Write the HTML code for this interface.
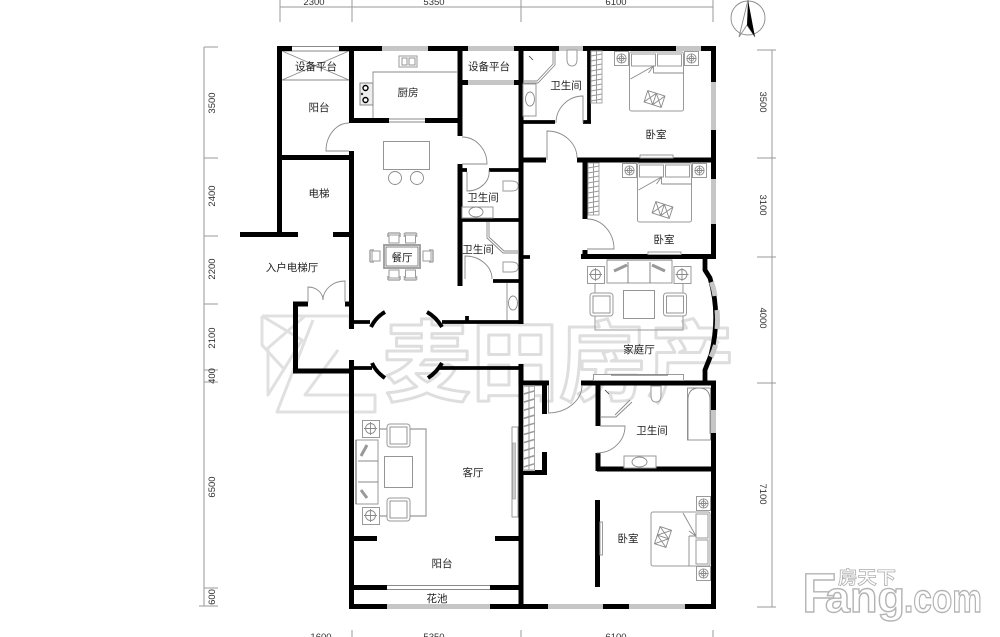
<!DOCTYPE html>
<html><head><meta charset="utf-8"><style>
html,body{margin:0;padding:0;background:#fff;width:1000px;height:637px;overflow:hidden}
svg{display:block}
.w{stroke:#000;stroke-width:5;fill:none}
.t{stroke:#000;stroke-width:3.8;fill:none}
.g{fill:#c6c6c6}
.l{stroke:#8a8a8a;stroke-width:.9;fill:none}
.f{stroke:#9a9a9a;stroke-width:1;fill:#fff}
.h{stroke:#aaa;stroke-width:1.6;fill:none}
.lb{font-family:"Liberation Sans","Noto Sans CJK SC",sans-serif;font-size:10.5px;fill:#222;text-anchor:middle}
.d{font-family:"Liberation Sans",sans-serif;font-size:9.5px;fill:#333;text-anchor:middle}
.wm{font-family:"Liberation Sans","Noto Sans CJK SC",sans-serif;font-weight:700;font-size:88px;fill:#fff;stroke:#dedede;stroke-width:3;stroke-linejoin:round}
.fg{font-family:"Liberation Sans",sans-serif;font-weight:700;fill:#fff;stroke:#b4b4b4;stroke-width:1.4}
</style></head><body>
<svg width="1000" height="637" viewBox="0 0 1000 637" xmlns="http://www.w3.org/2000/svg">
<defs>
<g id="ns"><rect x=".5" y=".5" width="14" height="14" class="f"/><circle cx="7.5" cy="7.5" r="4.6" class="l"/><circle cx="7.5" cy="7.5" r="2.4" class="l"/><path d="M3 7.500H12M7.500 3V12" class="l"/></g>
<g id="ns2"><rect x=".5" y=".5" width="17" height="17" class="f"/><circle cx="8.500" cy="8.500" r="5" class="l"/><path d="M2 8.500H15M8.500 2V15" class="l"/></g>
<g id="bed">
<rect x="0" y="0" width="54" height="59" rx="2" fill="#fff" stroke="#999" stroke-width="1"/>
<rect x="2" y="2" width="24" height="12" class="f"/><rect x="28" y="2" width="24" height="12" class="f"/>
<path d="M24 21H54M1 27L24 14V21M24 14L19 21" class="l"/>
<g transform="translate(25,47) rotate(18)"><path d="M-9-6H0V6H-9ZM0-6H9V6H0ZM-9-6L0 6M0-6L-9 6M0-6L9 6M9-6L0 6" class="l"/></g>
</g>
<g id="lad"><rect x="0" y="0" width="11" height="52" fill="#fff" stroke="#aaa" stroke-width="1"/><path d="M5.500 0V52M0 5L11 3M0 10L11 8M0 15L11 13M0 20L11 18M0 25L11 23M0 30L11 28M0 35L11 33M0 40L11 38M0 45L11 43M0 50L11 48" stroke="#999" stroke-width="1" fill="none"/></g>
<g id="arm"><rect x="0" y="0" width="23" height="23" rx="3" class="f"/><rect x="3" y="3" width="17" height="17" class="l"/></g>
<g id="ch"><rect x="1" y="3" width="10" height="8" class="f"/><path d="M0 1H12M0 1V5M12 1V5" class="h"/></g>
<g id="toilet"><path d="M0 0H10V9Q10 16 5 16T0 9Z" class="f"/></g>
</defs>

<!-- watermark -->
<g fill="none" stroke="#e0e0e0" stroke-width="3" stroke-linejoin="round">
<path d="M262 316H305L268 348V395L302 340L262 316M305 316H350V328"/>
<path d="M313 320L277 412H375V395H305L338 350"/>
<path d="M262 316V345L283 368"/>
</g>
<text class="wm" x="383" y="394" textLength="352" lengthAdjust="spacingAndGlyphs">麦田房产</text>

<!-- dimensions -->
<g stroke="#9a9a9a" stroke-width="1" fill="none">
<path d="M280 7H713M280 0V22M352 0V22M521 0V22M713 0V22"/>
<path d="M352 630V637M521 630V637M713 630V637"/>
<path d="M772 50V607M757 50H776M757 158H776M757 257H776M757 383H776M757 607H776"/>
<path d="M204 47V606" stroke="#bdbdbd" stroke-width="1.6"/>
<path d="M204 47H218M204 158H218M204 236H218M204 304H218M204 370H218M204 382H218M204 588H218M199 606H218"/>
</g>
<g class="d">
<text x="314" y="5">2300</text><text x="434" y="5">5350</text><text x="616" y="5">6100</text>
<text x="321" y="640">1600</text><text x="434" y="640">5350</text><text x="616" y="640">6100</text>
<text transform="translate(760,102) rotate(90)">3500</text>
<text transform="translate(760,205) rotate(90)">3100</text>
<text transform="translate(760,318) rotate(90)">4000</text>
<text transform="translate(760,494) rotate(90)">7100</text>
<text transform="translate(215,103) rotate(-90)">3500</text>
<text transform="translate(215,196) rotate(-90)">2400</text>
<text transform="translate(215,269) rotate(-90)">2200</text>
<text transform="translate(215,338) rotate(-90)">2100</text>
<text transform="translate(215,376) rotate(-90)">400</text>
<text transform="translate(215,487) rotate(-90)">6500</text>
<text transform="translate(215,597) rotate(-90)">600</text>
</g>

<!-- compass -->
<circle cx="748" cy="18" r="17" fill="none" stroke="#888" stroke-width=".9"/>
<path d="M739 37L747 25L755 37M748 0L739 37" class="l"/>
<path d="M748 0L755 37L747 25Z" fill="#000"/>

<!-- windows -->
<g class="g">
<rect x="382" y="46" width="46" height="5"/><rect x="468" y="46" width="46" height="5"/>
<rect x="559" y="46" width="24" height="5"/><rect x="676" y="46" width="25" height="5"/>
<rect x="468" y="80" width="46" height="5"/>
<rect x="711" y="82" width="5" height="48"/><rect x="711" y="179" width="5" height="45"/>
<rect x="711" y="410" width="5" height="23"/>
<rect x="387" y="604" width="103" height="5"/><rect x="548" y="604" width="55" height="5"/><rect x="629" y="604" width="56" height="5"/>
</g>
<path d="M292 46.500H339M292 51H339M387 585.500H490M387 589.500H490" class="l"/>
<path d="M282 51H349M282 80H349M282 51L349 80M349 51L282 80" class="l"/>

<!-- walls -->
<g class="w">
<path d="M277 48.500H292M339 48.500H382M428 48.500H468M514 48.500H559M583 48.500H676M701 48.500H716"/>
<path d="M279.500 46V237M240 234.500H298M333 234.500H351M277 157.500H354"/>
<path d="M351.500 46V123M349 120.500H389M425 120.500H462M351.500 151V329"/>
<path d="M460 46V136M460 164V286M462 82.500H468M514 82.500H519"/>
<path d="M521 46V324M521 364V609"/>
<path d="M295.500 302V373M293 304H308M345 304H351M293 371H354M351.500 360V609"/>
<path d="M349 606.500H387M490 606.500H548M603 606.500H629M685 606.500H716"/>
<path d="M354 587.500H387M490 587.500H519M354 538.500H377M495 538.500H519"/>
<path d="M713.500 46V82M713.500 130V179M713.500 224V259M713.500 381V410M713.500 433V609"/>
<path d="M581 256.500H716M581 383H716M523 383H549M544.500 381V414M544.500 452V475M523 472.500H547"/>
<path d="M585 160V219M585 250V259"/>
<path d="M577 160H716M523 160H546"/>
<path d="M598 381V426M598 453V471M597 469H716M597.500 500V587"/>
</g>
<g class="t">
<path d="M354 322H370M442 322H519M354 368H372M440 368H519"/>
<path d="M460 170H467M489 170H519M460 220H521M493 281H519M523 257H530"/>
<path d="M589 46V123M583 122H591M523 122H555"/>
<path d="M467 316V322"/>
</g>
<!-- arched doors -->
<g stroke="#000" stroke-width="4" fill="none">
<path d="M371 327Q376 317 385 312M427 312Q436 317 442 327M372 363Q376 372 385 378M428 378Q437 372 442 363"/>
</g>
<!-- bay -->
<path d="M705 259V270L710 278Q721 315 711 355L705 370V383" fill="none" stroke="#000" stroke-width="4.800"/>
<path d="M711.500 282Q714 289 715 296M717 310Q718 320 717 329M715.500 345Q714 351 711 357" fill="none" stroke="#c6c6c6" stroke-width="5"/>

<!-- door swings -->
<g class="l">
<path d="M349 123A23 28 0 0 0 326 151H349"/>
<path d="M462 137A25 27 0 0 1 487 164H462"/>
<path d="M467 172V191A22 19 0 0 0 489 170"/>
<path d="M465 279V256A27 23 0 0 1 492 279"/>
<path d="M583 123V96A27 27 0 0 0 556 123"/>
<path d="M547 160V131A30 27 0 0 1 577 158"/>
<path d="M587 249H614A27 30 0 0 0 587 219"/>
<path d="M548.500 385V413A34 28 0 0 0 582 385"/>
<path d="M600 426H625A28 27 0 0 1 597 453"/>
<path d="M308 302V287A15 13 0 0 1 323 300A22 19 0 0 1 345 281V302"/>
<path d="M389 119H425M389 122H425"/>
<path d="M373 118V72H458"/>
</g>

<!-- kitchen -->
<rect x="399" y="56" width="18" height="11" class="f"/><rect x="402" y="58" width="5" height="7" class="l"/><rect x="409" y="58" width="6" height="7" class="l"/>
<rect x="360" y="83" width="13" height="22" fill="#eee" stroke="#888"/>
<circle cx="365.500" cy="88" r="2.500" fill="#fff" stroke="#000" stroke-width="1.400"/><circle cx="365.500" cy="100" r="2.500" fill="#fff" stroke="#000" stroke-width="1.400"/><circle cx="362" cy="94" r="1.200" fill="#333"/>

<!-- island -->
<rect x="383.500" y="141.500" width="46" height="28" class="l"/>
<circle cx="395" cy="178" r="6.500" class="l"/><circle cx="417" cy="178" r="6.500" class="l"/>

<!-- dining -->
<rect x="384" y="245" width="36" height="23" fill="#fff" stroke="#999" stroke-width="1.800"/>
<rect x="386" y="247" width="32" height="19" fill="#fff" stroke="#555" stroke-width=".7"/>
<use href="#ch" x="388" y="232"/><use href="#ch" x="404.500" y="232"/>
<use href="#ch" transform="translate(400,281) rotate(180)"/><use href="#ch" transform="translate(416.500,281) rotate(180)"/>
<use href="#ch" transform="translate(369,262) rotate(-90)"/><use href="#ch" transform="translate(434,250) rotate(90)"/>

<!-- bath fixtures -->
<g>
<use href="#toilet" transform="translate(503,191) rotate(-90) scale(1,.95)"/>
<rect x="462" y="207" width="31" height="11" class="f"/><ellipse cx="476" cy="212" rx="7" ry="5" class="l"/>
<path d="M487 222V238L503 253H519M489 222V237L504 251H519" class="l"/>
<use href="#toilet" transform="translate(503,272) rotate(-90) scale(1,.95)"/>
<path d="M507 283V320" class="l"/><ellipse cx="513" cy="303" rx="4.500" ry="7" class="l"/>
<path d="M555 51V65L538 83H523M553 51V64L537 81H523" class="l"/>
<path d="M529 56L533 60" stroke="#333" stroke-width=".8"/>
<use href="#toilet" transform="translate(567,50)"/>
<rect x="523" y="84" width="13" height="32" class="f"/><ellipse cx="530" cy="99" rx="4.500" ry="7" class="l"/>
</g>
<!-- wardrobes -->
<use href="#lad" x="591" y="51"/><use href="#lad" x="588" y="163"/>
<use href="#lad" transform="translate(523.500,386) scale(1,1.620)"/>

<!-- beds -->
<use href="#ns" x="614" y="51"/><use href="#ns" x="684" y="51"/><use href="#bed" x="629.500" y="52"/>
<rect x="640" y="155" width="33" height="3" class="f"/>
<use href="#ns" x="622" y="163"/><use href="#ns" x="692" y="163"/><use href="#bed" x="637.500" y="163"/>
<rect x="648" y="252" width="33" height="2.500" class="f"/>
<use href="#ns" x="696" y="496"/><use href="#ns" x="696" y="566"/>
<g transform="translate(710,512) rotate(90)"><use href="#bed" x="0" y="0" transform="scale(1,1)"/></g>
<rect x="600" y="522" width="2.500" height="33" class="f"/>

<!-- family room -->
<path d="M595 284V330H683V284" stroke="#999" stroke-width="1" fill="none"/>
<rect x="607" y="260" width="65" height="23" class="f"/><path d="M628 262V283M650 262V283M607 260H672" stroke="#666" stroke-width=".8"/>
<path d="M614 271L627 265M665 271L652 265" stroke="#999" stroke-width="3"/>
<use href="#ns2" x="587" y="266"/><use href="#ns2" x="673.500" y="266"/>
<use href="#arm" x="590" y="293"/><use href="#arm" x="663.500" y="293"/>
<rect x="623.500" y="290.500" width="31" height="28" class="l"/>
<rect x="593.500" y="374.500" width="90" height="6" class="f"/>
<path d="M611 375H668" stroke="#888" stroke-width="1.500"/>

<!-- bath 4 -->
<use href="#toilet" transform="translate(651,386)"/>
<rect x="687.500" y="388" width="23" height="52" rx="0" class="l"/>
<path d="M688 440V400Q688 388 699 388T710 400V434" class="l"/>
<path d="M632 402L616 417H600M630 400L615 415" class="l"/><path d="M605 390L609 394" stroke="#333" stroke-width=".8"/>
<rect x="624" y="456" width="32" height="12" class="f"/><ellipse cx="639.500" cy="462" rx="7.500" ry="5" class="l"/>

<!-- living room -->
<path d="M378 429H426V516H378" stroke="#aaa" stroke-width="1.400" fill="none"/>
<rect x="356" y="440" width="22" height="64" class="f"/><path d="M358 461H378M358 482H378" class="l"/>
<path d="M361 456L367 445M361 490L367 498" stroke="#999" stroke-width="3"/>
<path d="M356 440V504" stroke="#555" stroke-width="1"/>
<use href="#ns2" x="362" y="420"/><use href="#ns2" x="362" y="507"/>
<use href="#arm" x="387" y="424"/><use href="#arm" x="387" y="498"/>
<rect x="384.500" y="456.500" width="28" height="31" class="l"/>
<rect x="512" y="427" width="6" height="90" class="f"/><rect x="512.500" y="443" width="3" height="56" fill="#ccc" stroke="#999" stroke-width=".6"/>

<!-- labels -->
<g class="lb">
<text x="316" y="70">设备平台</text><text x="489" y="70">设备平台</text>
<text x="408" y="96">厨房</text><text x="319" y="111">阳台</text><text x="319" y="197">电梯</text>
<text x="483" y="201">卫生间</text><text x="566" y="89">卫生间</text>
<text x="656" y="138">卧室</text><text x="664" y="243">卧室</text>
<text x="478" y="253">卫生间</text><text x="402" y="261">餐厅</text>
<text x="292" y="271">入户电梯厅</text><text x="639" y="353">家庭厅</text>
<text x="652" y="434">卫生间</text><text x="473" y="476">客厅</text>
<text x="628" y="542">卧室</text><text x="442" y="567">阳台</text><text x="437" y="602">花池</text>
</g>

<!-- logo -->
<text class="fg" x="802" y="612" font-size="56">F</text>
<text class="fg" x="825" y="612" font-size="44" textLength="80" lengthAdjust="spacingAndGlyphs">ang</text>
<text class="fg" x="904" y="612" font-size="40" textLength="78" lengthAdjust="spacingAndGlyphs">.com</text>
<text x="838" y="584" font-size="18" font-weight="700" textLength="58" lengthAdjust="spacingAndGlyphs" fill="#fff" stroke="#aaa" stroke-width=".7" font-family="'Liberation Sans','Noto Sans CJK SC',sans-serif">房天下</text>
</svg>
</body></html>
